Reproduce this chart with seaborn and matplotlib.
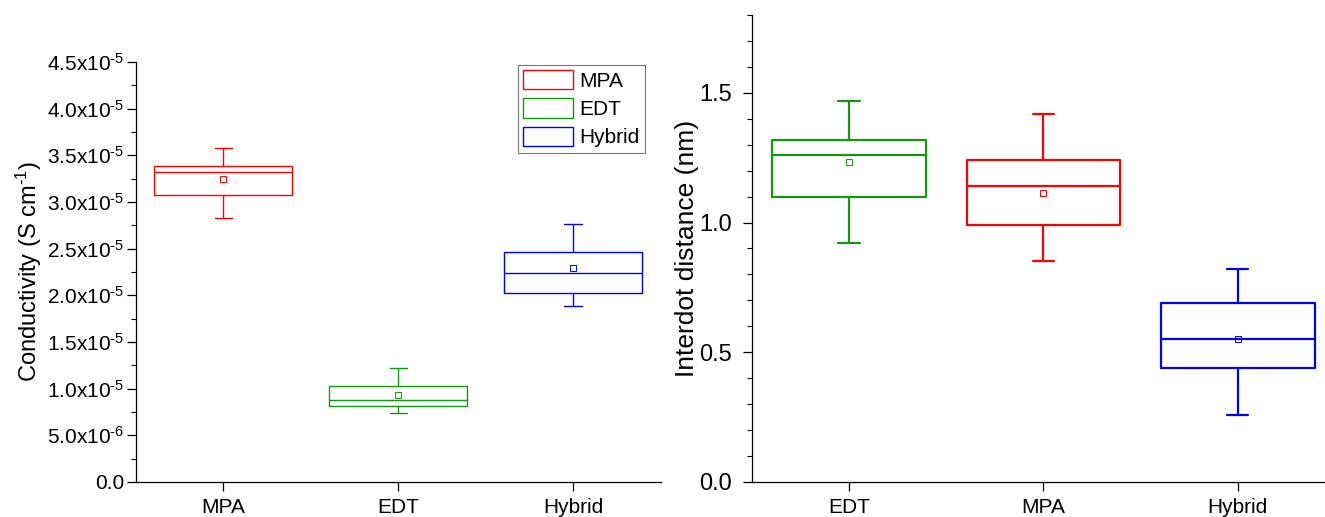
import numpy as np
import pandas as pd
import seaborn as sns
import matplotlib.pyplot as plt
import matplotlib.patches as mpatches
from matplotlib.ticker import MultipleLocator

sns.set_theme(style="ticks")
plt.rcParams["font.family"] = ["Liberation Sans", "DejaVu Sans"]
plt.rcParams["mathtext.fontset"] = "custom"
plt.rcParams["mathtext.rm"] = "Liberation Sans"
plt.rcParams["mathtext.it"] = "Liberation Sans:italic"
plt.rcParams["mathtext.bf"] = "Liberation Sans:bold"
for key in ["text.color", "axes.labelcolor", "xtick.color", "ytick.color"]:
    plt.rcParams[key] = "black"

colors = {"MPA": "#ff0000", "EDT": "#119911", "Hybrid": "#0000ff"}

# box stats: min, Q1, median, Q3, max
cond_order = ["MPA", "EDT", "Hybrid"]
cond_mpa = [2.83e-5, 3.08e-5, 3.32e-5, 3.39e-5, 3.58e-5]
cond_edt = [7.4e-6, 8.1e-6, 8.8e-6, 1.03e-5, 1.22e-5]
cond_hybrid = [1.89e-5, 2.02e-5, 2.24e-5, 2.46e-5, 2.76e-5]
cond_means = [3.25e-5, 9.3e-6, 2.29e-5]

dist_order = ["EDT", "MPA", "Hybrid"]
dist_edt = [0.92, 1.10, 1.26, 1.32, 1.47]
dist_mpa = [0.85, 0.99, 1.14, 1.24, 1.42]
dist_hybrid = [0.26, 0.44, 0.55, 0.69, 0.82]
dist_means = [1.235, 1.115, 0.55]

cond_ticks = [0, 5e-6, 1e-5, 1.5e-5, 2e-5, 2.5e-5, 3e-5, 3.5e-5, 4e-5, 4.5e-5]
cond_ticklabels = ["0.0", "5.0x10$^{\\text{-6}}$", "1.0x10$^{\\text{-5}}$",
                   "1.5x10$^{\\text{-5}}$", "2.0x10$^{\\text{-5}}$",
                   "2.5x10$^{\\text{-5}}$", "3.0x10$^{\\text{-5}}$",
                   "3.5x10$^{\\text{-5}}$", "4.0x10$^{\\text{-5}}$",
                   "4.5x10$^{\\text{-5}}$"]
dist_ticks = [0.0, 0.5, 1.0, 1.5]
dist_ticklabels = ["0.0", "0.5", "1.0", "1.5"]

cond_df = pd.DataFrame({"group": np.repeat(cond_order, 5),
                        "value": cond_mpa + cond_edt + cond_hybrid})
dist_df = pd.DataFrame({"group": np.repeat(dist_order, 5),
                        "value": dist_edt + dist_mpa + dist_hybrid})


def draw_panel(ax, df, order, means, lw, capw, msize):
    sns.boxplot(data=df, x="group", y="value", hue="group", order=order,
                hue_order=order, palette=colors, fill=False, width=0.79,
                whis=(0, 100), linewidth=lw, legend=False, ax=ax,
                capwidths=capw)
    sns.pointplot(x=order, y=means, hue=order, order=order, hue_order=order,
                  palette=colors, markers="s", linestyles="none",
                  markersize=msize, markerfacecolor="white",
                  markeredgewidth=0.7, errorbar=None, legend=False, ax=ax)
    ax.set_xlim(-0.5, 2.5)
    ax.set_xlabel("")
    sns.despine(ax=ax)
    for side in ["left", "bottom"]:
        ax.spines[side].set_linewidth(0.9)
        ax.spines[side].set_color("black")
    ax.tick_params(axis="both", which="major", direction="out", length=6.5,
                   width=0.9, color="black")
    ax.tick_params(axis="y", which="minor", direction="out", length=3.5,
                   width=0.8, color="black")


fig = plt.figure(figsize=(13.25, 5.17), dpi=100)
ax1 = fig.add_axes([0.1026, 0.0677, 0.396, 0.8124])
ax2 = fig.add_axes([0.5675, 0.0677, 0.44, 0.9033])

draw_panel(ax1, cond_df, cond_order, cond_means, 1.0, 0.10, 4.3)
ax1.set_ylim(0, 4.5e-5)
ax1.set_yticks(cond_ticks)
ax1.set_yticklabels(cond_ticklabels)
ax1.yaxis.set_minor_locator(MultipleLocator(2.5e-6))
ax1.tick_params(axis="y", labelsize=15, pad=2)
ax1.tick_params(axis="x", labelsize=15, pad=5)
ax1.set_ylabel("Conductivity (S cm$^{\\text{-1}}$)", fontsize=17, labelpad=2)

handles = [mpatches.Patch(facecolor="white", edgecolor=colors[k], linewidth=1.0,
                          label=k) for k in cond_order]
ax1.legend(handles=handles, loc="upper right", bbox_to_anchor=(0.97, 0.993),
           frameon=True, fancybox=False, edgecolor="#555555", fontsize=15,
           handlelength=2.4, handleheight=1.05, borderpad=0.25,
           labelspacing=0.36, handletextpad=0.3, borderaxespad=0)
ax1.get_legend().get_frame().set_linewidth(0.8)

draw_panel(ax2, dist_df, dist_order, dist_means, 1.6, 0.11, 4.3)
ax2.set_ylim(0, 1.8)
ax2.set_yticks(dist_ticks)
ax2.set_yticklabels(dist_ticklabels)
ax2.yaxis.set_minor_locator(MultipleLocator(0.1))
ax2.tick_params(axis="y", labelsize=17, pad=8)
ax2.tick_params(axis="x", labelsize=15, pad=5)
ax2.set_ylabel("Interdot distance (nm)", fontsize=19, labelpad=0)

fig.savefig("out.png", dpi=100)
